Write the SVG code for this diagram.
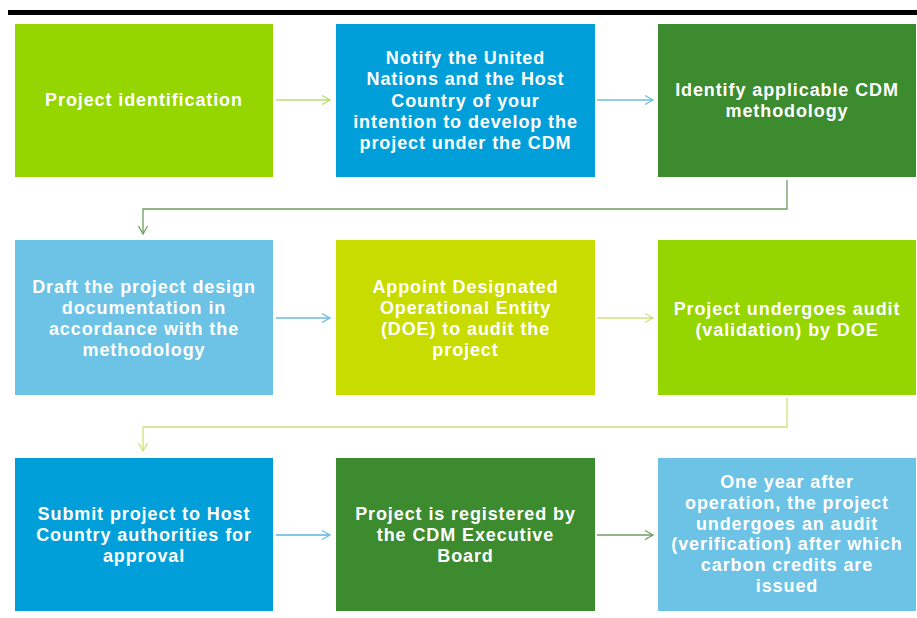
<svg xmlns="http://www.w3.org/2000/svg" width="917" height="618" viewBox="0 0 917 618">
  <defs>
    <style>
      .box text { font-family: "Liberation Sans", Arial, sans-serif; font-weight: bold; font-size: 18px; letter-spacing: 0.9px; fill: #ffffff; text-anchor: middle; }
      .lime { fill: #95d500; }
      .blue { fill: #009fda; }
      .dkgreen { fill: #3d8b2f; }
      .ltblue { fill: #6cc3e6; }
      .yellow { fill: #c8dc00; }
      .conn path { fill: none; stroke-width: 1.3; }
    </style>
    <marker id="mLime" markerUnits="userSpaceOnUse" markerWidth="12" markerHeight="12" refX="9" refY="5" orient="auto" overflow="visible">
      <path d="M1,0.5 L9,5 L1,9.5" fill="none" stroke="#b8dd72" stroke-width="1.3"/>
    </marker>
    <marker id="mBlue" markerUnits="userSpaceOnUse" markerWidth="12" markerHeight="12" refX="9" refY="5" orient="auto" overflow="visible">
      <path d="M1,0.5 L9,5 L1,9.5" fill="none" stroke="#6dbde2" stroke-width="1.3"/>
    </marker>
    <marker id="mDk" markerUnits="userSpaceOnUse" markerWidth="12" markerHeight="12" refX="9" refY="5" orient="auto" overflow="visible">
      <path d="M1,0.5 L9,5 L1,9.5" fill="none" stroke="#6f9c63" stroke-width="1.3"/>
    </marker>
    <marker id="mYel" markerUnits="userSpaceOnUse" markerWidth="12" markerHeight="12" refX="9" refY="5" orient="auto" overflow="visible">
      <path d="M1,0.5 L9,5 L1,9.5" fill="none" stroke="#cfe07c" stroke-width="1.3"/>
    </marker>
  </defs>

  <rect x="8" y="10" width="909" height="5" fill="#000000"/>

  <g id="connectors" class="conn">
    <path d="M276,100 H330" stroke="#b8dd72" marker-end="url(#mLime)"/>
    <path d="M597,100 H653" stroke="#6dbde2" marker-end="url(#mBlue)"/>
    <path d="M787,180 V209 H143 V234" stroke="#6f9c63" marker-end="url(#mDk)"/>
    <path d="M276,318 H330" stroke="#6dbde2" marker-end="url(#mBlue)"/>
    <path d="M597,318 H653" stroke="#cfe07c" marker-end="url(#mYel)"/>
    <path d="M787,398 V427 H143 V451" stroke="#cfe07c" marker-end="url(#mYel)"/>
    <path d="M276,535 H330" stroke="#5ab4e2" marker-end="url(#mBlue)"/>
    <path d="M597,535 H653" stroke="#6f9c63" marker-end="url(#mDk)"/>
  </g>

  <g id="n1" class="box">
    <rect class="lime" x="15" y="24" width="258" height="153"/>
    <text x="144" y="106">Project identification</text>
  </g>
  <g id="n2" class="box">
    <rect class="blue" x="336" y="24" width="259" height="153"/>
    <text x="465.5" y="64">Notify the United</text>
    <text x="465.5" y="85.3">Nations and the Host</text>
    <text x="465.5" y="106.6">Country of your</text>
    <text x="465.5" y="128">intention to develop the</text>
    <text x="465.5" y="149.3">project under the CDM</text>
  </g>
  <g id="n3" class="box">
    <rect class="dkgreen" x="658" y="24" width="258" height="153"/>
    <text x="787" y="96">Identify applicable CDM</text>
    <text x="787" y="117">methodology</text>
  </g>

  <g id="n4" class="box">
    <rect class="ltblue" x="15" y="240" width="258" height="155"/>
    <text x="144" y="293">Draft the project design</text>
    <text x="144" y="314">documentation in</text>
    <text x="144" y="335">accordance with the</text>
    <text x="144" y="356">methodology</text>
  </g>
  <g id="n5" class="box">
    <rect class="yellow" x="336" y="240" width="259" height="155"/>
    <text x="465.5" y="293">Appoint Designated</text>
    <text x="465.5" y="314">Operational Entity</text>
    <text x="465.5" y="335">(DOE) to audit the</text>
    <text x="465.5" y="356">project</text>
  </g>
  <g id="n6" class="box">
    <rect class="lime" x="658" y="240" width="258" height="155"/>
    <text x="787" y="315">Project undergoes audit</text>
    <text x="787" y="336">(validation) by DOE</text>
  </g>

  <g id="n7" class="box">
    <rect class="blue" x="15" y="458" width="258" height="153"/>
    <text x="144" y="520">Submit project to Host</text>
    <text x="144" y="541">Country authorities for</text>
    <text x="144" y="562">approval</text>
  </g>
  <g id="n8" class="box">
    <rect class="dkgreen" x="336" y="458" width="259" height="153"/>
    <text x="465.5" y="520">Project is registered by</text>
    <text x="465.5" y="541">the CDM Executive</text>
    <text x="465.5" y="562">Board</text>
  </g>
  <g id="n9" class="box">
    <rect class="ltblue" x="658" y="458" width="258" height="153"/>
    <text x="787" y="488">One year after</text>
    <text x="787" y="508.8">operation, the project</text>
    <text x="787" y="529.6">undergoes an audit</text>
    <text x="787" y="550.4">(verification) after which</text>
    <text x="787" y="571.2">carbon credits are</text>
    <text x="787" y="592">issued</text>
  </g>
</svg>
